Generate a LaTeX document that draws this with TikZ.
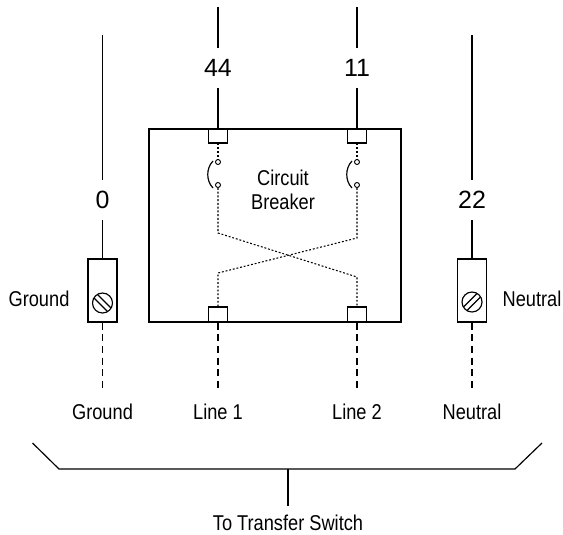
\documentclass[tikz,border=0pt]{standalone}
\usepackage{fontspec}
\setmainfont{Liberation Sans}
\newfontfamily\condfont[FakeStretch=0.85]{Liberation Sans}
\usetikzlibrary{arrows.meta, shapes}

\tikzset{
    wire/.style={draw=black, line width=1pt},
    dotwire/.style={draw=black, line width=0.9pt, dash pattern=on 1.6pt off 1.6pt},
    dashwire/.style={draw=black, line width=1pt, dash pattern=on 6pt off 4pt},
    num/.style={font=\fontsize{21.3}{24}\selectfont, inner xsep=0pt, inner ysep=0.33cm},
    lbl/.style={font=\condfont\fontsize{18.3}{20.4}\selectfont, inner sep=0pt}
}

\begin{document}
\begin{tikzpicture}[x=0.03cm, y=-0.03cm]
            \useasboundingbox (0,0) rectangle (563,535);

            % boxes and terminals
            \begin{scope}[every node/.style={rectangle,draw,line width=1pt,inner sep=0pt}]
                \node[minimum width=7.56cm, minimum height=5.79cm] (CB) at (275,225.5) {};
                \node[minimum width=0.57cm, minimum height=0.42cm] (T44) at (218,136) {};
                \node[minimum width=0.57cm, minimum height=0.42cm] (T11) at (357,136) {};
                \node[minimum width=0.57cm, minimum height=0.45cm] (B1) at (218,314.5) {};
                \node[minimum width=0.57cm, minimum height=0.45cm] (B2) at (357,314.5) {};
                \node[minimum width=0.87cm, minimum height=1.89cm] (GB) at (102.5,290.5) {};
                \node[minimum width=0.87cm, minimum height=1.89cm] (NB) at (472,290.5) {};
            \end{scope}

            % screws and contacts
            \begin{scope}[every node/.style={circle,draw,line width=1pt,inner sep=0pt}]
                \node[minimum size=0.6cm] (GS) at (102.5,303) {};
                \node[minimum size=0.6cm] (NS) at (472,302) {};
                \node[minimum size=0.15cm, line width=0.8pt] (S1a) at (218,162) {};
                \node[minimum size=0.15cm, line width=0.8pt] (S1b) at (218,185) {};
                \node[minimum size=0.15cm, line width=0.8pt] (S2a) at (357,162) {};
                \node[minimum size=0.15cm, line width=0.8pt] (S2b) at (357,185) {};
            \end{scope}
            \draw[wire] ([shift={(-4.8,-8.3)}]GS.center) -- ([shift={(8.3,4.8)}]GS.center);
            \draw[wire] ([shift={(-8.3,-4.8)}]GS.center) -- ([shift={(4.8,8.3)}]GS.center);
            \draw[wire] ([shift={(4.8,-8.3)}]NS.center) -- ([shift={(-8.3,4.8)}]NS.center);
            \draw[wire] ([shift={(8.3,-4.8)}]NS.center) -- ([shift={(-4.8,8.3)}]NS.center);
            \draw[wire] (213,161) .. controls (206,168) and (206,181) .. (213,188);
            \draw[wire] (352,161) .. controls (345,168) and (345,181) .. (352,188);

            % labels
            \node[num] (n44) at (218,68) {44};
            \node[num] (n11) at (357,68) {11};
            \node[num] (n0) at (102.5,200) {0};
            \node[num] (n22) at (472,200) {22};
            \node[lbl, align=center] (CBL) at (283,190) {Circuit\\Breaker};
            \node[lbl, anchor=base] (GL) at (39,306) {Ground};
            \node[lbl, anchor=base] (NL) at (532,306) {Neutral};
            \node[lbl, anchor=base] (GD) at (102.5,419) {Ground};
            \node[lbl, anchor=base] (L1) at (218,419) {Line 1};
            \node[lbl, anchor=base] (L2) at (357,419) {Line 2};
            \node[lbl, anchor=base] (ND) at (472,419) {Neutral};
            \node[lbl, anchor=base] (TS) at (288,530.5) {To Transfer Switch};

            % free ends and bends
            \coordinate (top44) at (218,7);
            \coordinate (top11) at (357,7);
            \coordinate (top0) at (102.5,35);
            \coordinate (top22) at (472,35);
            \coordinate (X1a) at (218,233);
            \coordinate (X1b) at (357,277);
            \coordinate (X2a) at (357,238);
            \coordinate (X2b) at (218,273);
            \coordinate (BrL) at (32.5,443);
            \coordinate (BrA) at (59,469);
            \coordinate (BrM) at (288,469);
            \coordinate (BrB) at (515,469);
            \coordinate (BrR) at (542,443);

            % wires
            \begin{scope}[every edge/.style={wire}]
                \path (top44) edge (n44) (n44) edge (T44);
                \path (top11) edge (n11) (n11) edge (T11);
                \path (top0) edge (n0) (n0) edge (GB);
                \path (top22) edge (n22) (n22) edge (NB);
                \path (BrM) edge[shorten >=0.26cm] (TS.north);
            \end{scope}
            \draw[wire] (BrL) -- (BrA) -- (BrB) -- (BrR);

            % inside the breaker
            \begin{scope}[every edge/.style={dotwire}]
                \path (T44) edge (S1a);
                \path (T11) edge (S2a);
            \end{scope}
            \draw[dotwire] (S1b) -- (X1a) -- (X1b) -- (B2);
            \draw[dotwire] (S2b) -- (X2a) -- (X2b) -- (B1);

            % dashed leads below
            \begin{scope}[every edge/.style={dashwire, shorten >=0.39cm}]
                \path (GB) edge (GD.north);
                \path (B1) edge (L1.north);
                \path (B2) edge (L2.north);
                \path (NB) edge (ND.north);
            \end{scope}

            \end{tikzpicture}
\end{document}
